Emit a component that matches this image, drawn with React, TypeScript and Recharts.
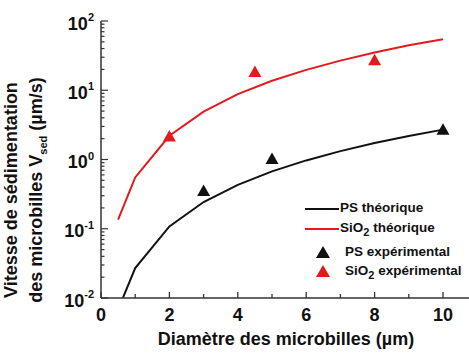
import React from "react";
import {
  ComposedChart,
  Line,
  Scatter,
  XAxis,
  YAxis,
  Label,
} from "recharts";

// Diamètre (µm) et vitesse de sédimentation (µm/s)
const diameters = [0.5, 1, 2, 3, 4, 5, 6, 7, 8, 9, 10];
const psTheorique = [0.0068, 0.027, 0.108, 0.243, 0.43, 0.675, 0.97, 1.32, 1.73, 2.19, 2.7];
const sio2Theorique = [0.135, 0.55, 2.2, 4.9, 8.8, 13.7, 19.7, 26.8, 35, 44.5, 54.5];

const psExpDiameters = [3, 5, 10];
const psExpVitesse = [0.34, 0.98, 2.6];
const sio2ExpDiameters = [2, 4.5, 8];
const sio2ExpVitesse = [2.07, 17.7, 26.2];

// axes
const xTicks = [0, 1, 2, 3, 4, 5, 6, 7, 8, 9, 10];
const xTickLabels = ["0", "", "2", "", "4", "", "6", "", "8", "", "10"];
const yDecades = [0.01, 0.1, 1, 10, 100];
const yExponents = ["-2", "-1", "0", "1", "2"];
const yMinorSteps = [2, 3, 4, 5, 6, 7, 8, 9];

const yTicks = yDecades.flatMap((d, i) =>
  i < yDecades.length - 1 ? [d, ...yMinorSteps.map((m) => +(d * m).toPrecision(3))] : [d]
);

const RED = "#e3191c";
const INK = "#111";
const AXIS = "#333";
const FONT = '"Liberation Sans", Arial, sans-serif';

const toPoints = (xs: number[], ys: number[]) => xs.map((x, i) => ({ x, y: ys[i] }));

const psTheoData = toPoints(diameters, psTheorique);
const sio2TheoData = toPoints(diameters, sio2Theorique);
const psExpData = toPoints(psExpDiameters, psExpVitesse);
const sio2ExpData = toPoints(sio2ExpDiameters, sio2ExpVitesse);

const Triangle = (color: string) => (props: any) => {
  const { cx, cy } = props;
  if (cx == null || cy == null) return null;
  return (
    <polygon
      points={`${cx},${cy - 7.5} ${cx - 6.5},${cy + 4} ${cx + 6.5},${cy + 4}`}
      fill={color}
    />
  );
};

const BottomTick = (props: any) => {
  const { x, y, index } = props;
  const major = index % 2 === 0;
  return (
    <g>
      <line x1={x} x2={x} y1={y} y2={y - (major ? 6 : 4)} stroke={AXIS} strokeWidth={1.3} />
      {major && (
        <text x={x} y={y + 23} textAnchor="middle" fontFamily={FONT} fontWeight="bold" fontSize={18} fill={INK}>
          {xTickLabels[index]}
        </text>
      )}
    </g>
  );
};

const TopTick = (props: any) => {
  const { x, y, index } = props;
  const major = index % 2 === 0;
  return <line x1={x} x2={x} y1={y} y2={y + (major ? 6 : 4)} stroke={AXIS} strokeWidth={1.3} />;
};

const LeftTick = (props: any) => {
  const { x, y, payload } = props;
  const k = yDecades.findIndex((d) => Math.abs(d - payload.value) < d * 1e-6);
  const major = k >= 0;
  return (
    <g>
      <line x1={x} x2={x + (major ? 7 : 3.5)} y1={y} y2={y} stroke={AXIS} strokeWidth={1.2} />
      {major && (
        <text x={x - 7} y={y + 8.5} textAnchor="end" fontFamily={FONT} fontWeight="bold" fontSize={18} fill={INK}>
          10
          <tspan fontSize={11} dy={-8.5}>
            {yExponents[k]}
          </tspan>
        </text>
      )}
    </g>
  );
};

const XTitle = (props: any) => {
  const { viewBox } = props;
  const cx = viewBox.x + viewBox.width / 2 + 1;
  return (
    <text x={cx} y={345} textAnchor="middle" fontFamily={FONT} fontWeight="bold" fontSize={18} fill={INK}>
      Diamètre des microbilles (µm)
    </text>
  );
};

const YTitle = () => (
  <g fontFamily={FONT} fontWeight="bold" fontSize={18} fill={INK}>
    <text transform="translate(17, 190) rotate(-90)" textAnchor="middle">
      Vitesse de sédimentation
    </text>
    <text transform="translate(42, 190) rotate(-90)" textAnchor="middle">
      des microbilles V
      <tspan fontSize={11} dy={5}>sed</tspan>
      <tspan dy={-5}> (µm/s)</tspan>
    </text>
  </g>
);

const legendText: React.CSSProperties = {
  position: "absolute",
  fontFamily: FONT,
  fontWeight: "bold",
  fontSize: 13.5,
  color: INK,
  lineHeight: "16px",
  whiteSpace: "nowrap",
};

function ChartLegend() {
  const rows = [
    { label: "PS", sub: "", tail: " théorique", color: INK, kind: "line", top: 200 },
    { label: "SiO", sub: "2", tail: " théorique", color: RED, kind: "line", top: 220 },
    { label: "PS", sub: "", tail: " expérimental", color: INK, kind: "tri", top: 244 },
    { label: "SiO", sub: "2", tail: " expérimental", color: RED, kind: "tri", top: 263 },
  ];
  return (
    <>
      {rows.map((r) => (
        <React.Fragment key={r.label + r.tail}>
          {r.kind === "line" ? (
            <div
              style={{
                position: "absolute",
                left: 305,
                top: r.top + 8,
                width: 34,
                height: 2,
                background: r.color,
              }}
            />
          ) : (
            <svg style={{ position: "absolute", left: 315, top: r.top + 1 }} width={16} height={14}>
              <polygon points="8,1 1,13 15,13" fill={r.color} />
            </svg>
          )}
          <div style={{ ...legendText, left: r.kind === "line" ? 340 : 345, top: r.top }}>
            {r.label}
            {r.sub && <sub style={{ fontSize: 11, verticalAlign: "-4px" }}>{r.sub}</sub>}
            {r.tail}
          </div>
        </React.Fragment>
      ))}
    </>
  );
}

export default function App() {
  // pinned to the page corner so chart coordinates equal picture coordinates
  return (
    <div style={{ position: "absolute", left: 0, top: 0, width: 469, height: 354, overflow: "hidden" }}>
      <ComposedChart width={469} height={354} margin={{ top: 21, right: 0, bottom: 0, left: 0 }}>
        <XAxis
          dataKey="x"
          type="number"
          domain={[0, 10.76]}
          ticks={xTicks}
          interval={0}
          tickLine={false}
          tickSize={0}
          tickMargin={0}
          height={56}
          axisLine={{ stroke: AXIS, strokeWidth: 1.5 }}
          tick={<BottomTick />}
          allowDataOverflow
        >
          <Label content={<XTitle />} />
        </XAxis>
        <XAxis
          xAxisId="top"
          orientation="top"
          dataKey="x"
          type="number"
          domain={[0, 10.76]}
          ticks={xTicks}
          interval={0}
          tickLine={false}
          tickSize={0}
          tickMargin={0}
          height={0}
          axisLine={{ stroke: AXIS, strokeWidth: 1.5 }}
          tick={<TopTick />}
          allowDataOverflow
        />
        <YAxis
          dataKey="y"
          type="number"
          scale="log"
          domain={[0.01, 100]}
          ticks={yTicks}
          interval={0}
          tickLine={false}
          tickSize={0}
          tickMargin={0}
          width={101}
          axisLine={{ stroke: AXIS, strokeWidth: 1.5 }}
          tick={<LeftTick />}
          allowDataOverflow
        >
          <Label content={<YTitle />} />
        </YAxis>
        <Line
          data={psTheoData}
          dataKey="y"
          type="linear"
          stroke={INK}
          strokeWidth={2}
          dot={false}
          isAnimationActive={false}
        />
        <Line
          data={sio2TheoData}
          dataKey="y"
          type="linear"
          stroke={RED}
          strokeWidth={2}
          dot={false}
          isAnimationActive={false}
        />
        <Scatter data={psExpData} shape={Triangle(INK)} isAnimationActive={false} />
        <Scatter data={sio2ExpData} shape={Triangle(RED)} isAnimationActive={false} />
      </ComposedChart>
      <ChartLegend />
    </div>
  );
}
